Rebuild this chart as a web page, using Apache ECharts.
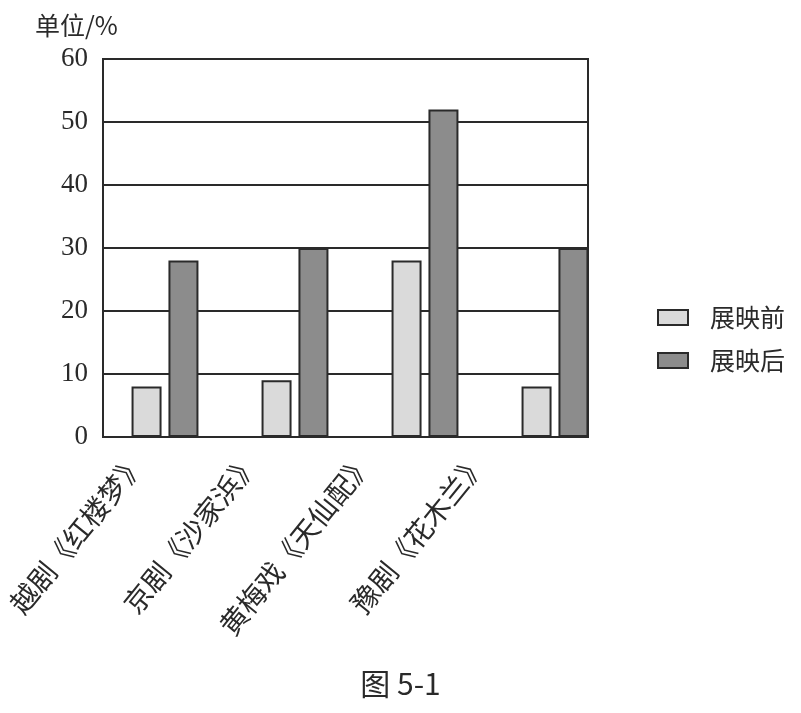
<!DOCTYPE html>
<html>
<head>
<meta charset="utf-8">
<script src="https://cdn.jsdelivr.net/npm/echarts@6/dist/echarts.min.js"></script>
<style>html,body{margin:0;padding:0;background:#fff}#c{width:801px;height:713px}</style>
</head>
<body>
<div id="c"></div>
<script>
const categories = ['越剧《红楼梦》', '京剧《沙家浜》', '黄梅戏《天仙配》', '豫剧《花木兰》'];
const seriesNames = ['展映前', '展映后'];
const beforeValues = [8, 9, 28, 8];
const afterValues = [28, 30, 52, 30];
const yTicks = [0, 10, 20, 30, 40, 50, 60];
const unitLabel = '单位/%';
const captionText = '图 5-1';

const chart = echarts.init(document.getElementById('c'), null, {renderer: 'canvas'});
const cjk = '"Noto Sans CJK SC", "Noto Sans", sans-serif';
const serif = '"Liberation Serif", "DejaVu Serif", serif';
const ink = '#2a2a2a';

const option = {
  backgroundColor: '#ffffff',
  animation: false,
  title: [
    {text: unitLabel, left: 30, top: 8, textStyle: {fontFamily: cjk, fontSize: 25, fontWeight: 'normal', color: ink}},
    {text: captionText, left: 'center', top: 664, textStyle: {fontFamily: cjk, fontSize: 30, fontWeight: 'normal', color: ink}}
  ],
  legend: {
    orient: 'vertical',
    left: 652,
    top: 300,
    itemWidth: 30,
    itemHeight: 15,
    itemGap: 18,
    icon: 'rect',
    data: seriesNames,
    textStyle: {fontFamily: cjk, fontSize: 25, color: ink, padding: [0, 0, 0, 17]}
  },
  grid: [
    {left: 103, top: 59, width: 485, height: 378, show: true, borderColor: ink, borderWidth: 2, backgroundColor: 'transparent'},
    {left: 100, top: 59, width: 520, height: 378},
    {left: 82, top: 59, width: 455, height: 378}
  ],
  xAxis: [
    {gridIndex: 0, type: 'category', data: categories, show: false},
    {gridIndex: 1, type: 'category', data: categories, show: false},
    {gridIndex: 2, type: 'category', data: categories,
     axisLine: {show: false}, axisTick: {show: false}, splitLine: {show: false},
     axisLabel: {rotate: 51, margin: 20, fontFamily: cjk, fontSize: 28, color: ink, interval: 0}}
  ],
  yAxis: [
    {gridIndex: 0, type: 'value', min: yTicks[0], max: yTicks[yTicks.length - 1], interval: 10,
     axisLine: {show: false}, axisTick: {show: false},
     axisLabel: {margin: 15, fontFamily: serif, fontSize: 27, color: ink},
     splitLine: {show: true, lineStyle: {color: ink, width: 2}}},
    {gridIndex: 1, type: 'value', min: 0, max: 60, show: false},
    {gridIndex: 2, type: 'value', min: 0, max: 60, show: false}
  ],
  series: [
    {name: seriesNames[0], type: 'bar', xAxisIndex: 1, yAxisIndex: 1, data: beforeValues,
     barWidth: 30, barGap: '23%',
     itemStyle: {color: '#dadada', borderColor: ink, borderWidth: 2}},
    {name: seriesNames[1], type: 'bar', xAxisIndex: 1, yAxisIndex: 1, data: afterValues,
     barWidth: 30, barGap: '23%',
     itemStyle: {color: '#8c8c8c', borderColor: ink, borderWidth: 2}}
  ]
};
chart.setOption(option);
</script>
</body>
</html>
